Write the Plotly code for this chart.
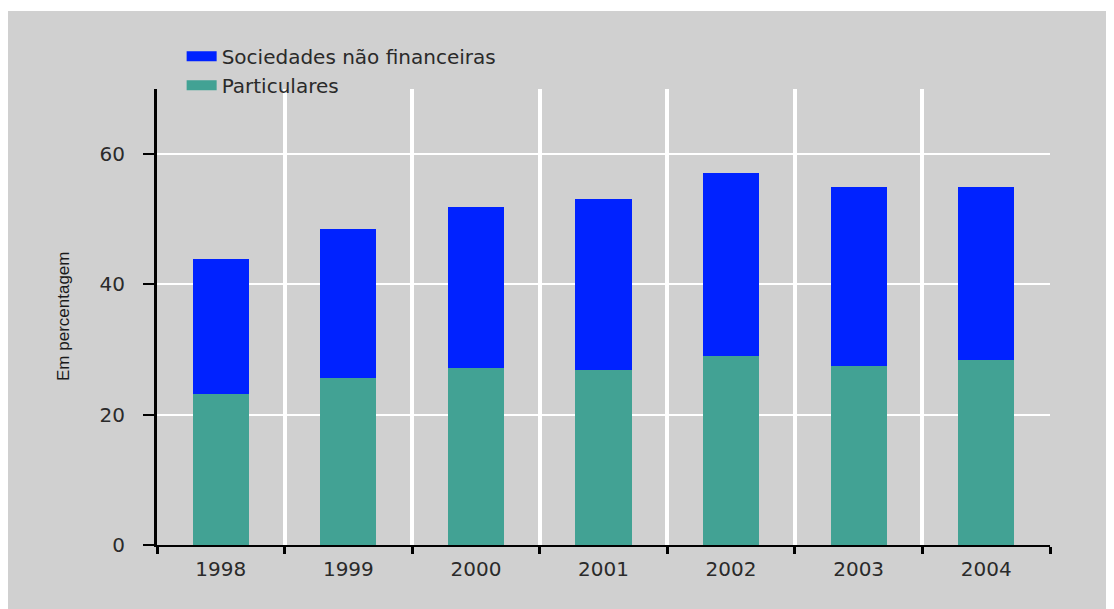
import plotly.graph_objects as go

# Data (percent)
years = ["1998", "1999", "2000", "2001", "2002", "2003", "2004"]
particulares = [23.2, 25.6, 27.2, 26.9, 29.0, 27.5, 28.4]
sociedades = [20.7, 22.9, 24.7, 26.2, 28.1, 27.4, 26.5]

BG = "#D0D0D0"
BLUE = "#0022FF"
TEAL = "#42A294"
TXT = "#2A2A2A"
FONT = "DejaVu Sans"

# page adds an 8px body margin, so the figure is 8px smaller than the window
W, H = 1106, 601
M = dict(l=149, r=64, t=81, b=64)
plot_w = W - M["l"] - M["r"]
plot_h = H - M["t"] - M["b"]

fig = go.Figure()

# stacked bars: households at the bottom, companies on top
fig.add_trace(go.Bar(x=years, y=particulares, name="Particulares",
                     marker=dict(color=TEAL, line=dict(width=0)),
                     legendgroup="p", showlegend=False))
fig.add_trace(go.Bar(x=years, y=sociedades, name="Sociedades não financeiras",
                     marker=dict(color=BLUE, line=dict(width=0)),
                     legendgroup="s", showlegend=False))

# wide legend swatches (thick line entries)
fig.add_trace(go.Scatter(x=[None], y=[None], mode="lines", name="Sociedades não financeiras",
                         line=dict(color=BLUE, width=13), legendgroup="s"))
fig.add_trace(go.Scatter(x=[None], y=[None], mode="lines", name="Particulares",
                         line=dict(color=TEAL, width=14), legendgroup="p"))

fig.update_layout(
    width=W, height=H,
    barmode="stack", bargap=0.56,
    paper_bgcolor=BG, plot_bgcolor=BG,
    margin=dict(M, autoexpand=False),
    font=dict(family=FONT, color=TXT),
    showlegend=True,
    legend=dict(
        xref="container", yref="container",
        x=0.157, xanchor="left", y=0.952, yanchor="top",
        traceorder="normal", bgcolor="rgba(0,0,0,0)",
        font=dict(family=FONT, size=20, color=TXT),
        itemwidth=30, tracegroupgap=0,
    ),
    shapes=[
        # thin white strip along the top edge
        dict(type="rect", xref="paper", yref="paper", layer="below",
             x0=-0.2, x1=1.2, y0=1 + (M["t"] - 3) / plot_h, y1=1 + M["t"] / plot_h,
             fillcolor="white", line=dict(width=0)),
    ],
    annotations=[
        # y axis title
        dict(text="Em percentagem", xref="paper", yref="paper",
             x=(55 - M["l"]) / plot_w, y=0.5, xanchor="center", yanchor="middle",
             textangle=-90, showarrow=False,
             font=dict(family="Liberation Sans Narrow, Liberation Sans", size=17, color="#1A1A1A")),
    ],
)

fig.update_xaxes(
    type="category", tickson="boundaries", range=[-0.5, 6.5],
    showgrid=True, gridcolor="white", gridwidth=4,
    showline=True, linecolor="black", linewidth=2,
    ticks="outside", ticklen=7, tickwidth=3, tickcolor="black",
    tickfont=dict(family=FONT, size=20, color=TXT),
    ticklabelstandoff=5, automargin=False,
)

fig.update_yaxes(
    range=[0, 70], tickvals=[0, 20, 40, 60],
    showgrid=True, gridcolor="white", gridwidth=2, zeroline=False,
    showline=True, linecolor="black", linewidth=3,
    ticks="outside", ticklen=11, tickwidth=2, tickcolor="black",
    tickfont=dict(family=FONT, size=20, color=TXT),
    ticklabelstandoff=14, automargin=False,
)

fig.write_html("out.html")
